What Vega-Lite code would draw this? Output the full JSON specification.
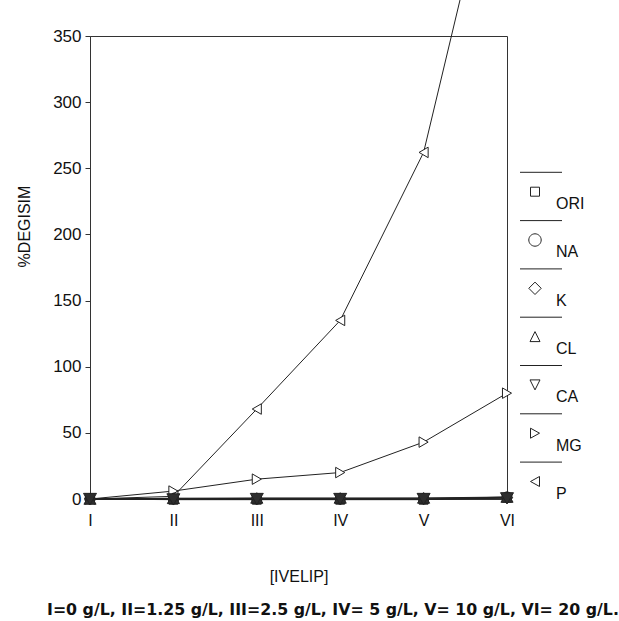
{
  "$schema": "https://vega.github.io/schema/vega-lite/v6.json",
  "width": 417,
  "height": 463,
  "autosize": {"type": "none"},
  "padding": {"left": 90, "top": 36, "right": 112, "bottom": 122},
  "background": "white",
  "config": {
    "view": {"stroke": "#333", "strokeWidth": 1},
    "font": "Liberation Sans"
  },
  "title": {
    "text": "I=0 g/L, II=1.25 g/L, III=2.5 g/L, IV= 5 g/L, V= 10 g/L, VI= 20 g/L.",
    "orient": "bottom",
    "fontSize": 15.8,
    "fontWeight": "bold",
    "font": "DejaVu Sans",
    "anchor": "start",
    "frame": "group",
    "dx": -43,
    "offset": 19,
    "color": "#111"
  },
  "data": {
    "values": [
      {"ion": "MG", "conc": "I", "value": 0},
      {"ion": "MG", "conc": "II", "value": 6},
      {"ion": "MG", "conc": "III", "value": 15},
      {"ion": "MG", "conc": "IV", "value": 20},
      {"ion": "MG", "conc": "V", "value": 43},
      {"ion": "MG", "conc": "VI", "value": 80},
      {"ion": "P", "conc": "I", "value": 0},
      {"ion": "P", "conc": "II", "value": 2},
      {"ion": "P", "conc": "III", "value": 68},
      {"ion": "P", "conc": "IV", "value": 135},
      {"ion": "P", "conc": "V", "value": 262},
      {"ion": "P", "conc": "VI", "value": 526},
      {"ion": "ORI", "conc": "I", "value": 0},
      {"ion": "ORI", "conc": "II", "value": -0.5},
      {"ion": "ORI", "conc": "III", "value": -0.5},
      {"ion": "ORI", "conc": "IV", "value": -0.5},
      {"ion": "ORI", "conc": "V", "value": -0.5},
      {"ion": "ORI", "conc": "VI", "value": 1},
      {"ion": "NA", "conc": "I", "value": 0},
      {"ion": "NA", "conc": "II", "value": 0},
      {"ion": "NA", "conc": "III", "value": 0},
      {"ion": "NA", "conc": "IV", "value": 0},
      {"ion": "NA", "conc": "V", "value": 0},
      {"ion": "NA", "conc": "VI", "value": 1.5},
      {"ion": "K", "conc": "I", "value": 0},
      {"ion": "K", "conc": "II", "value": 0.5},
      {"ion": "K", "conc": "III", "value": 0.3},
      {"ion": "K", "conc": "IV", "value": 0.3},
      {"ion": "K", "conc": "V", "value": 0.5},
      {"ion": "K", "conc": "VI", "value": 1},
      {"ion": "CL", "conc": "I", "value": 0},
      {"ion": "CL", "conc": "II", "value": 0.5},
      {"ion": "CL", "conc": "III", "value": 0.8},
      {"ion": "CL", "conc": "IV", "value": 0.8},
      {"ion": "CL", "conc": "V", "value": 0.8},
      {"ion": "CL", "conc": "VI", "value": 1.5},
      {"ion": "CA", "conc": "I", "value": 0},
      {"ion": "CA", "conc": "II", "value": -0.3},
      {"ion": "CA", "conc": "III", "value": 0},
      {"ion": "CA", "conc": "IV", "value": 0},
      {"ion": "CA", "conc": "V", "value": 0},
      {"ion": "CA", "conc": "VI", "value": 0.5}
    ]
  },
  "encoding": {
    "x": {
      "field": "conc",
      "type": "ordinal",
      "sort": ["I", "II", "III", "IV", "V", "VI"],
      "scale": {"type": "point", "padding": 0},
      "axis": {
        "title": "[IVELIP]",
        "titleFontSize": 16,
        "titleFontWeight": "normal",
        "titleColor": "#111",
        "titlePadding": 40,
        "labelAngle": 0,
        "labelFontSize": 16,
        "labelColor": "#111",
        "labelPadding": 13,
        "ticks": false,
        "domainColor": "#333"
      }
    },
    "y": {
      "field": "value",
      "type": "quantitative",
      "scale": {"domain": [0, 350], "nice": false, "zero": false},
      "axis": {
        "title": "%DEGISIM",
        "titleFontSize": 16,
        "titleFontWeight": "normal",
        "titleColor": "#111",
        "titleBaseline": "alphabetic",
        "titleX": -61,
        "titleY": 190,
        "values": [0, 50, 100, 150, 200, 250, 300, 350],
        "labelFontSize": 17,
        "labelColor": "#111",
        "labelPadding": 4,
        "tickSize": 5,
        "tickColor": "#333",
        "domainColor": "#333",
        "grid": false
      }
    }
  },
  "resolve": {"scale": {"shape": "independent", "size": "independent"}, "legend": {"shape": "independent"}},
  "layer": [
    {
      "mark": {"type": "line", "color": "#222", "strokeWidth": 1, "clip": false},
      "encoding": {"detail": {"field": "ion"}}
    },
    {
      "transform": [{"filter": {"field": "ion", "oneOf": ["MG", "P"]}}],
      "mark": {"type": "point", "filled": true, "fill": "white", "stroke": "#222", "strokeWidth": 1, "opacity": 1, "size": 110},
      "encoding": {
        "shape": {
          "field": "ion",
          "type": "nominal",
          "scale": {
            "domain": ["ORI", "NA", "K", "CL", "CA", "MG", "P"],
            "range": ["square", "circle", "diamond", "triangle-up", "triangle-down", "triangle-right", "triangle-left"]
          },
          "legend": null
        }
      }
    },
    {
      "transform": [{"filter": {"field": "ion", "oneOf": ["ORI", "NA", "K", "CL", "CA"]}}],
      "mark": {"type": "point", "filled": true, "fill": "#2e2e2e", "stroke": "#222", "strokeWidth": 1, "opacity": 1},
      "encoding": {
        "shape": {
          "field": "ion",
          "type": "nominal",
          "scale": {
            "domain": ["ORI", "NA", "K", "CL", "CA", "MG", "P"],
            "range": ["square", "circle", "diamond", "triangle-up", "triangle-down", "triangle-right", "triangle-left"]
          },
          "legend": null
        },
        "size": {
          "field": "ion",
          "type": "ordinal",
          "scale": {
            "domain": ["ORI", "NA", "K", "CL", "CA"],
            "range": [81, 169, 150, 100, 100]
          },
          "legend": null
        }
      }
    },
    {
      "transform": [{"filter": "false"}],
      "mark": {"type": "point", "filled": false, "color": "#222", "strokeWidth": 1, "opacity": 1, "size": 4},
      "encoding": {
        "shape": {
          "field": "ion",
          "type": "nominal",
          "scale": {
            "domain": ["ORI", "NA", "K", "CL", "CA", "MG", "P"],
            "range": [
              "M-15,-31.7H27M-4.5,-16.8H4.5V-7.8H-4.5Z",
              "M-15,-31.7H27M6.2,-12.3A6.2,6.2,0,1,1,-6.2,-12.3A6.2,6.2,0,1,1,6.2,-12.3Z",
              "M-15,-31.7H27M0,-18.5L6.2,-12.3L0,-6.1L-6.2,-12.3Z",
              "M-15,-31.7H27M0,-17.3L5,-7.3L-5,-7.3Z",
              "M-15,-31.7H27M0,-7.3L5,-17.3L-5,-17.3Z",
              "M-15,-31.7H27M4.5,-12.3L-4.5,-17.3L-4.5,-7.3Z",
              "M-15,-31.7H27M-4.5,-12.3L4.5,-17.3L4.5,-7.3Z"
            ]
          },
          "legend": {
            "orient": "none",
            "legendX": 437,
            "legendY": 160,
            "title": null,
            "padding": 0,
            "symbolSize": 4,
            "symbolStrokeWidth": 1,
            "symbolStrokeColor": "#222",
            "labelFontSize": 16,
            "labelFont": "Liberation Sans",
            "labelColor": "#111",
            "labelOffset": 13,
            "rowPadding": 6.3
          }
        }
      }
    }
  ]
}
